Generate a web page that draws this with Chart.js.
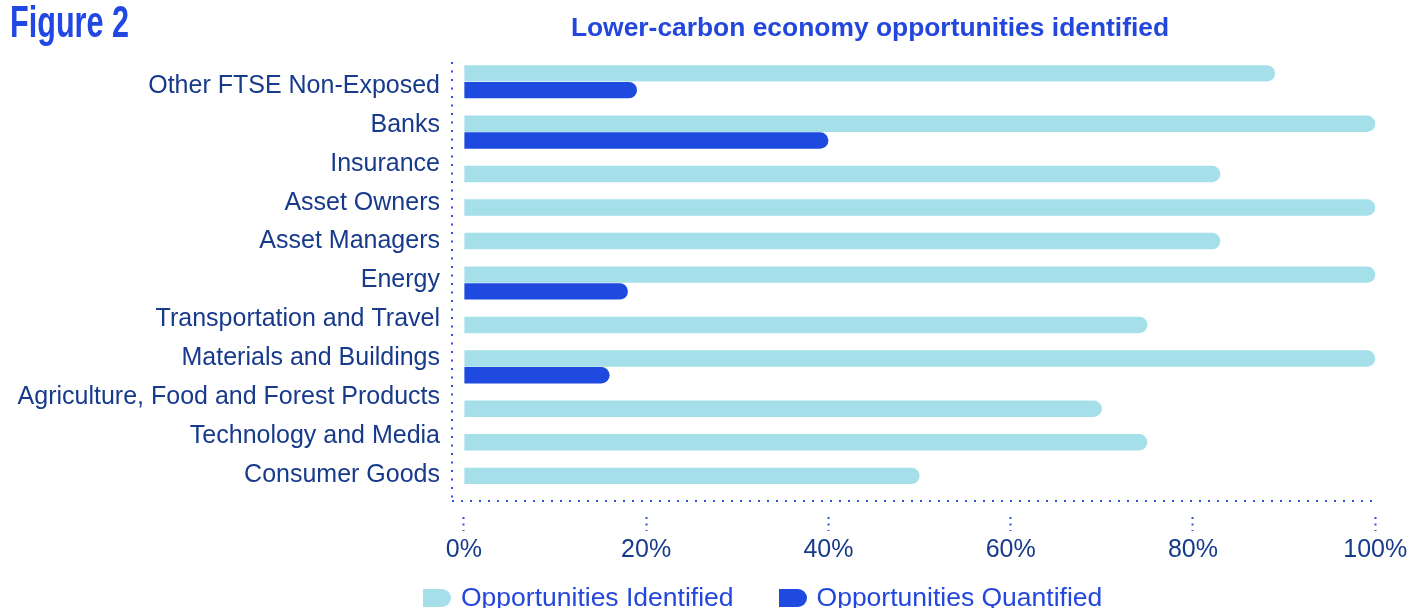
<!DOCTYPE html>
<html>
<head>
<meta charset="utf-8">
<title>Lower-carbon economy opportunities identified</title>
<script src="https://cdn.jsdelivr.net/npm/chart.js@4.4.1/dist/chart.umd.min.js"></script>
<style>
  html, body { margin: 0; padding: 0; background: #fff; overflow: hidden; }
  #wrap { position: relative; width: 1419px; height: 608px; }
  #fig {
    position: absolute; left: 10px; top: -4px;
    font: bold 45px 'Liberation Sans', Arial, sans-serif;
    color: #2148e2; white-space: nowrap;
    transform: scaleX(0.68); transform-origin: 0 0;
  }
  #heading {
    position: absolute; left: 470px; top: 12px; width: 800px;
    text-align: center; white-space: nowrap;
    font: bold 26.4px 'Liberation Sans', Arial, sans-serif; color: #2347dc;
  }
  #chartBox { position: absolute; left: 0; top: 0; width: 1419px; height: 608px; }
  #legend {
    position: absolute; left: 423px; top: 582px; display: flex; gap: 45px;
    font: 26.5px 'Liberation Sans', Arial, sans-serif; color: #2347dc; white-space: nowrap;
  }
  #legend .item { display: flex; align-items: center; gap: 10px; }
  #legend .box { width: 28px; height: 18px; border-radius: 0 9px 9px 0; }
</style>
</head>
<body>
<div id="wrap">
  <div id="chartBox"><canvas id="chartOportunidades"></canvas></div>
  <div id="fig">Figure 2</div>
  <div id="heading">Lower-carbon economy opportunities identified</div>
  <div id="legend"></div>
</div>
<script>
// ====== Datos ======
const categories = [
  'Other FTSE Non-Exposed',
  'Banks',
  'Insurance',
  'Asset Owners',
  'Asset Managers',
  'Energy',
  'Transportation and Travel',
  'Materials and Buildings',
  'Agriculture, Food and Forest Products',
  'Technology and Media',
  'Consumer Goods'
];
const identified = [89, 100, 83, 100, 83, 100, 75, 100, 70, 75, 50];
const quantified = [19, 40, null, null, null, 18, null, 16, null, null, null];
const xTicks = [0, 20, 40, 60, 80, 100];

// ====== Colores ======
const LIGHT = '#a4dfea';
const DARK = '#1f4ae0';
const NAVY = '#173a8b';
const DOTS = '#2b50e2';
const FONT = "'Liberation Sans', Arial, sans-serif";

// ====== Filas: una por barra, más una fila vacía tras cada categoría ======
const rowLabels = [];
const idRows = [];
const qRows = [];
categories.forEach((name, i) => {
  rowLabels.push(name); idRows.push(identified[i]); qRows.push(null);
  if (quantified[i] !== null) {
    rowLabels.push(name); idRows.push(null); qRows.push(quantified[i]);
  }
  rowLabels.push(''); idRows.push(null); qRows.push(null);
});

// ejes punteados (borde izquierdo e inferior del área)
const dottedAxes = {
  id: 'dottedAxes',
  afterDraw(chart) {
    const { ctx, chartArea: a } = chart;
    ctx.save();
    ctx.strokeStyle = DOTS;
    ctx.lineWidth = 2;
    ctx.setLineDash([2, 6.5]);
    ctx.beginPath();
    ctx.moveTo(a.left, a.top - 3);
    ctx.lineTo(a.left, a.bottom);
    ctx.stroke();
    ctx.setLineDash([2, 7]);
    ctx.beginPath();
    ctx.moveTo(a.left, a.bottom);
    ctx.lineTo(a.right, a.bottom);
    ctx.stroke();
    ctx.restore();
  }
};

const chart = new Chart(document.getElementById('chartOportunidades'), {
  type: 'bar',
  data: {
    labels: rowLabels,
    datasets: [
      { label: 'Opportunities Identified', data: idRows, backgroundColor: LIGHT },
      { label: 'Opportunities Quantified', data: qRows, backgroundColor: DARK }
    ]
  },
  options: {
    indexAxis: 'y',
    responsive: true,
    maintainAspectRatio: false,
    animation: false,
    layout: { padding: { left: 0, right: 41, top: 65, bottom: 38 } },
    datasets: {
      bar: {
        grouped: false,
        barPercentage: 0.98,
        categoryPercentage: 1,
        borderRadius: 20,
        borderSkipped: 'start'
      }
    },
    scales: {
      x: {
        type: 'linear',
        min: -1.3,
        max: 100.3,
        afterBuildTicks: (s) => { s.ticks = xTicks.map(v => ({ value: v })); },
        border: { display: false },
        grid: {
          drawOnChartArea: false,
          drawTicks: true,
          tickLength: 30,
          tickWidth: 2,
          tickColor: DOTS,
          tickBorderDash: [0, 16, 2, 4.5, 2, 4.5, 2, 60]
        },
        ticks: {
          padding: 7,
          color: NAVY,
          font: { family: FONT, size: 25, lineHeight: 1 },
          callback: (v) => v + '%'
        }
      },
      y: {
        type: 'category',
        offset: true,
        afterFit: (s) => { s.width = 0; },
        border: { display: false },
        grid: { display: false },
        ticks: { display: false }
      },
      names: {
        type: 'linear',
        position: 'left',
        offset: false,
        reverse: true,
        min: -0.54,
        max: 10.67,
        afterBuildTicks: (s) => { s.ticks = categories.map((c, i) => ({ value: i })); },
        afterFit: (s) => { s.width = 452; },
        border: { display: false },
        grid: { drawOnChartArea: false, drawTicks: false },
        ticks: {
          autoSkip: false,
          padding: 12,
          color: NAVY,
          font: { family: FONT, size: 25 },
          callback: (v) => categories[v]
        }
      }
    },
    plugins: {
      legend: { display: false },
      tooltip: { enabled: false }
    }
  },
  plugins: [dottedAxes]
});

// ====== Leyenda HTML a partir de los datasets ======
const legendEl = document.getElementById('legend');
chart.data.datasets.forEach(ds => {
  const item = document.createElement('div');
  item.className = 'item';
  const box = document.createElement('span');
  box.className = 'box';
  box.style.background = ds.backgroundColor;
  const txt = document.createElement('span');
  txt.textContent = ds.label;
  item.append(box, txt);
  legendEl.appendChild(item);
});
</script>
</body>
</html>
